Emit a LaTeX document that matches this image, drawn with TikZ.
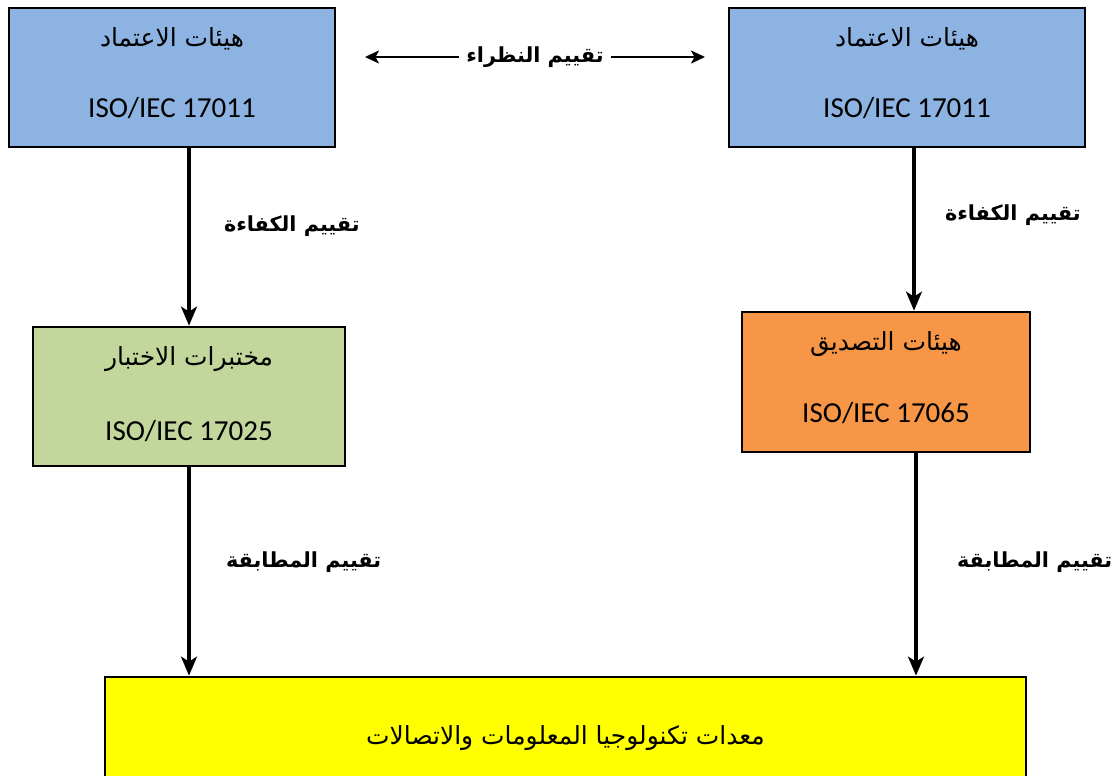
\documentclass[tikz,border=0pt]{standalone}
\usepackage{fontspec}
\setmainfont{Carlito}
\newfontfamily\arabicfont[Script=Arabic]{DejaVu Sans}
\TeXXeTstate=1
\usetikzlibrary{arrows.meta, positioning}

\definecolor{accblue}{HTML}{8DB3E2}
\definecolor{labgreen}{HTML}{C3D69B}
\definecolor{certorange}{HTML}{F79646}
\definecolor{ictyellow}{HTML}{FFFF00}

\newcommand{\artext}[1]{{\arabicfont\fontsize{14.2}{16}\selectfont\beginR #1\endR}}

\begin{document}
\begin{tikzpicture}[x=0.02cm, y=-0.02cm,
    box/.style={draw=black, line width=1.6pt, align=center, inner sep=0pt,
        font=\fontsize{16.5}{18}\selectfont},
    flow/.style={-{Stealth[length=0.38cm, width=0.32cm, inset=0.1cm]}, line width=1.8pt},
    peer/.style={{Stealth[length=0.28cm, width=0.26cm, inset=0.07cm]}-{Stealth[length=0.28cm, width=0.26cm, inset=0.07cm]}, line width=1.3pt},
    lbl/.style={font=\arabicfont\bfseries\fontsize{11.8}{14}\selectfont, inner sep=2pt}]
    \useasboundingbox (0,0) rectangle (1115,775);
    % Boxes
    \node[box, fill=accblue, minimum width=6.52cm, minimum height=2.78cm] (accl) at (172,77.5)
        {\artext{هيئات الاعتماد}\\[0.8cm] ISO/IEC 17011\rule[-0.2cm]{0pt}{0pt}};
    \node[box, fill=accblue, minimum width=7.12cm, minimum height=2.78cm] (accr) at (907,77.5)
        {\artext{هيئات الاعتماد}\\[0.8cm] ISO/IEC 17011\rule[-0.2cm]{0pt}{0pt}};
    \node[box, fill=labgreen, minimum width=6.24cm, minimum height=2.78cm] (lab) at (189,396.5)
        {\artext{مختبرات الاختبار}\\[0.85cm] ISO/IEC 17025\rule[-0.12cm]{0pt}{0pt}};
    \node[box, fill=certorange, minimum width=5.76cm, minimum height=2.8cm] (cert) at (886,382)
        {\artext{هيئات التصديق}\\[0.8cm] ISO/IEC 17065\rule[-0.2cm]{0pt}{0pt}};
    \node[box, fill=ictyellow, minimum width=18.42cm, minimum height=2.46cm] (ict) at (565.5,738.5)
        {\artext{معدات تكنولوجيا المعلومات والاتصالات}};
    % Peer evaluation
    \coordinate (pl) at (365,57);
    \coordinate (pr) at (705,57);
    \draw[peer] (pl) -- (pr) node[midway, fill=white, lbl, inner xsep=4pt] {\artext{\bfseries\fontsize{11.8}{14}\selectfont تقييم النظراء}};
    % Competence
    \draw[flow] (accl.south -| lab.north) -- (lab.north)
        node[pos=0.44, right=0.6cm, lbl] {\beginR تقييم الكفاءة\endR};
    \draw[flow] ([xshift=0.14cm]accr.south) -- ([xshift=0.14cm]accr.south |- cert.north)
        node[pos=0.41, right=0.52cm, lbl] {\beginR تقييم الكفاءة\endR};
    % Conformity
    \draw[flow] (lab.south) -- (lab.south |- ict.north)
        node[pos=0.455, right=0.64cm, lbl] {\beginR تقييم المطابقة\endR};
    \draw[flow] ([xshift=0.6cm]cert.south) -- ([xshift=0.6cm]cert.south |- ict.north)
        node[pos=0.49, right=0.72cm, lbl] {\beginR تقييم المطابقة\endR};
\end{tikzpicture}
\end{document}
